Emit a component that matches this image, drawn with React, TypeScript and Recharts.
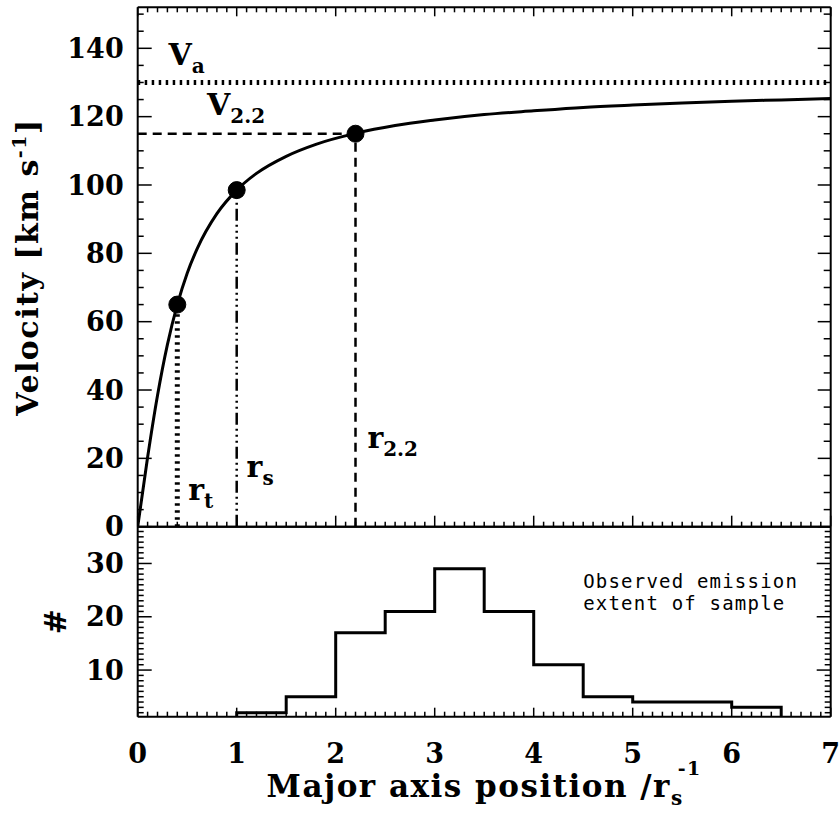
import {
  ComposedChart,
  Line,
  ReferenceDot,
  ReferenceLine,
  XAxis,
  YAxis,
} from "recharts";

// Rotation curve (radius in r_s, velocity in km/s).
const radius = [0, 0.1, 0.2, 0.3, 0.4, 0.5, 0.6, 0.8, 1.0, 1.2, 1.5, 1.8, 2.2, 2.6, 3.0, 3.5, 4.0, 4.5, 5.0, 5.5, 6.0, 6.5, 7.0];
const velocity = [0, 20.3, 38.4, 53.3, 65, 74.2, 81.3, 91.6, 98.5, 103.4, 108.4, 111.9, 115.1, 117.4, 119, 120.6, 121.7, 122.7, 123.4, 124, 124.5, 124.9, 125.3];

// Characteristic points: r_t, r_s, r_2.2 and the asymptotic V_a.
const markerRadius = [0.4, 1, 2.2];
const markerVelocity = [65, 98.5, 115];
const asymptoticVelocity = 130;

// Lower panel histogram (bins of 0.5 r_s).
const binEdges = [1, 1.5, 2, 2.5, 3, 3.5, 4, 4.5, 5, 5.5, 6, 6.5];
const binCounts = [2, 5, 17, 21, 29, 21, 11, 5, 4, 4, 3];

// Axis ticks.
const xTicks = [0, 1, 2, 3, 4, 5, 6, 7];
const vTicks = [0, 20, 40, 60, 80, 100, 120, 140];
const nTicks = [10, 20, 30];

// minor tick marks only (no labels)
const steps = (from: number, to: number, step: number) => {
  const out: number[] = [];
  for (let v = from; v <= to + 1e-9; v += step) out.push(Math.round(v * 100) / 100);
  return out;
};
const xMinor = steps(0, 7, 0.1);
const vMinor = steps(0, 150, 5);
const nMinor = steps(2, 36, 1);

const curve = radius.map((r, i) => ({ x: r, v: velocity[i] }));
const hist = [
  { x: binEdges[0], n: 0 },
  ...binCounts.map((n, i) => ({ x: binEdges[i], n })),
  { x: binEdges[binEdges.length - 1], n: 0 },
];

const SERIF = "'DejaVu Serif', serif";
const MONO = "'DejaVu Sans Mono', monospace";
const AXIS_LINE = { stroke: "#000", strokeWidth: 2 };
const TICK_LINE = { stroke: "#000", strokeWidth: 1.5 };
const TICK_TEXT = { fill: "#000", fontSize: 27, fontFamily: SERIF, fontWeight: "bold" };

// IDL-style inward tick marks drawn by the axis' own tick renderer
type Side = "left" | "right" | "top" | "bottom";
const makeTick = (side: Side, majors: number[], majorLen: number, minorLen: number, labels: boolean) => (p: any) => {
  const v = p.payload?.value;
  const major = majors.includes(v);
  const len = major ? majorLen : minorLen;
  const line =
    side === "left"
      ? { x1: p.x, x2: p.x + len, y1: p.y, y2: p.y }
      : side === "right"
        ? { x1: p.x, x2: p.x - len, y1: p.y, y2: p.y }
        : side === "top"
          ? { x1: p.x, x2: p.x, y1: p.y, y2: p.y + len }
          : { x1: p.x, x2: p.x, y1: p.y, y2: p.y - len };
  let label = null;
  if (labels && major && side === "left") {
    label = (
      <text x={p.x - 14} y={p.y} dy="0.36em" textAnchor="end" {...TICK_TEXT}>
        {v}
      </text>
    );
  } else if (labels && major && side === "bottom") {
    label = (
      <text x={p.x} y={p.y + 46} textAnchor="middle" {...TICK_TEXT}>
        {v}
      </text>
    );
  }
  return (
    <g>
      <line {...line} {...TICK_LINE} />
      {label}
    </g>
  );
};

function Annot({ cx, cy, main, sub }: any) {
  return (
    <text x={cx} y={cy} fontFamily={SERIF} fontWeight="bold" fontSize={30} fill="#000">
      {main}
      <tspan dy={8} fontSize={20}>{sub}</tspan>
    </text>
  );
}

const lineStyles = [
  { strokeWidth: 5, strokeDasharray: "2.5 4.5" },
  { strokeWidth: 2.5, strokeDasharray: "12 4 2 4 2 4 2 4" },
  { strokeWidth: 2.5, strokeDasharray: "9 6" },
];

const axisBase = {
  type: "number" as const,
  allowDataOverflow: true,
  interval: 0,
  tickSize: 0,
  tickMargin: 0,
  tickLine: false,
  axisLine: AXIS_LINE,
};

export default function App() {
  return (
    <div style={{ position: "absolute", left: 0, top: 0, width: 840, height: 815, background: "#fff" }}>
      <div style={{ position: "absolute", left: 0, top: 0 }}>
        <ComposedChart width={840} height={545} data={curve} margin={{ top: 0, right: 0, bottom: 0, left: 0 }}>
          <XAxis {...axisBase} dataKey="x" domain={[0, 7]} ticks={xMinor} height={18.3} tick={makeTick("bottom", xTicks, 11, 5, false)} />
          <XAxis {...axisBase} xAxisId="top" orientation="top" dataKey="x" domain={[0, 7]} ticks={xMinor} height={7.3} tick={makeTick("top", xTicks, 9, 5, false)} />
          <YAxis
            {...axisBase}
            domain={[0, 152]}
            ticks={vMinor}
            width={137.7}
            tick={makeTick("left", vTicks, 14, 6, true)}
            label={({ viewBox }: any) => {
              const cy = viewBox ? viewBox.y + viewBox.height / 2 : 267;
              return (
                <text
                  x={38}
                  y={cy}
                  transform={`rotate(-90, 38, ${cy})`}
                  textAnchor="middle"
                  fontFamily={SERIF}
                  fontWeight="bold"
                  fontSize={30}
                  letterSpacing={1.5}
                  fill="#000"
                >
                  Velocity [km s<tspan dy={-12} fontSize={19}>-1</tspan>
                  <tspan dy={12}>]</tspan>
                </text>
              );
            }}
          />
          <YAxis {...axisBase} yAxisId="right" orientation="right" domain={[0, 152]} ticks={vMinor} width={9.3} tick={makeTick("right", vTicks, 13, 7, false)} />

          <ReferenceLine y={asymptoticVelocity} stroke="#000" strokeWidth={5} strokeDasharray="2.5 4.5" />
          <ReferenceLine
            segment={[
              { x: 0, y: markerVelocity[2] },
              { x: markerRadius[2], y: markerVelocity[2] },
            ]}
            stroke="#000"
            strokeWidth={2.5}
            strokeDasharray="9 6"
          />
          {markerRadius.map((r, i) => (
            <ReferenceLine
              key={`v-${r}`}
              segment={[
                { x: r, y: 0 },
                { x: r, y: markerVelocity[i] },
              ]}
              stroke="#000"
              {...lineStyles[i]}
            />
          ))}

          <Line
            type="monotone"
            dataKey="v"
            stroke="#000"
            strokeWidth={3}
            dot={false}
            activeDot={false}
            isAnimationActive={false}
          />

          {markerRadius.map((r, i) => (
            <ReferenceDot key={`m-${r}`} x={r} y={markerVelocity[i]} r={8.5} fill="#000" stroke="#000" />
          ))}

          <ReferenceDot x={0.31} y={135} r={0} shape={(p: any) => <Annot {...p} main="V" sub="a" />} />
          <ReferenceDot x={0.7} y={120.5} r={0} shape={(p: any) => <Annot {...p} main="V" sub="2.2" />} />
          <ReferenceDot x={0.51} y={7.8} r={0} shape={(p: any) => <Annot {...p} main="r" sub="t" />} />
          <ReferenceDot x={1.1} y={14.5} r={0} shape={(p: any) => <Annot {...p} main="r" sub="s" />} />
          <ReferenceDot x={2.32} y={23} r={0} shape={(p: any) => <Annot {...p} main="r" sub="2.2" />} />
        </ComposedChart>
      </div>

      <div style={{ position: "absolute", left: 0, top: 500 }}>
        <ComposedChart width={840} height={315} data={hist} margin={{ top: 0, right: 0, bottom: 0, left: 0 }}>
          <XAxis
            {...axisBase}
            dataKey="x"
            domain={[0, 7]}
            ticks={xMinor}
            height={98.3}
            tick={makeTick("bottom", xTicks, 9, 5, true)}
            label={({ viewBox }: any) => {
              const cx = viewBox ? viewBox.x + viewBox.width / 2 : 484;
              const y = viewBox ? viewBox.y + 80 : 297;
              return (
                <text
                  x={cx}
                  y={y}
                  textAnchor="middle"
                  fontFamily={SERIF}
                  fontWeight="bold"
                  fontSize={31}
                  letterSpacing={1.5}
                  fill="#000"
                >
                  Major axis position /r<tspan dy={8} fontSize={20}>s</tspan>
                  <tspan dy={-30} dx={-6} fontSize={19}>-1</tspan>
                </text>
              );
            }}
          />
          <XAxis {...axisBase} xAxisId="top" orientation="top" dataKey="x" domain={[0, 7]} ticks={xTicks} height={26.7} tick={() => <g />} />
          <YAxis
            {...axisBase}
            domain={[1.25, 36.9]}
            ticks={nMinor}
            width={137.7}
            tick={makeTick("left", nTicks, 14, 6, true)}
            label={({ viewBox }: any) => {
              const cy = viewBox ? viewBox.y + viewBox.height / 2 : 121.7;
              return (
                <text
                  x={66}
                  y={cy}
                  transform={`rotate(-90, 66, ${cy})`}
                  textAnchor="middle"
                  fontFamily={SERIF}
                  fontWeight="bold"
                  fontSize={30}
                  fill="#000"
                >
                  #
                </text>
              );
            }}
          />
          <YAxis {...axisBase} yAxisId="right" orientation="right" domain={[1.25, 36.9]} ticks={nMinor} width={9.3} tick={makeTick("right", nTicks, 14, 6, false)} />

          <Line
            type="stepAfter"
            dataKey="n"
            stroke="#000"
            strokeWidth={3}
            dot={false}
            activeDot={false}
            isAnimationActive={false}
          />

          <ReferenceDot
            x={4.5}
            y={25.4}
            r={0}
            shape={(p: any) => (
              <text x={p.cx} y={p.cy} fontFamily={MONO} fontSize={19} letterSpacing={1.2} fill="#000">
                <tspan x={p.cx}>Observed emission</tspan>
                <tspan x={p.cx} dy={22}>extent of sample</tspan>
              </text>
            )}
          />
        </ComposedChart>
      </div>
    </div>
  );
}
